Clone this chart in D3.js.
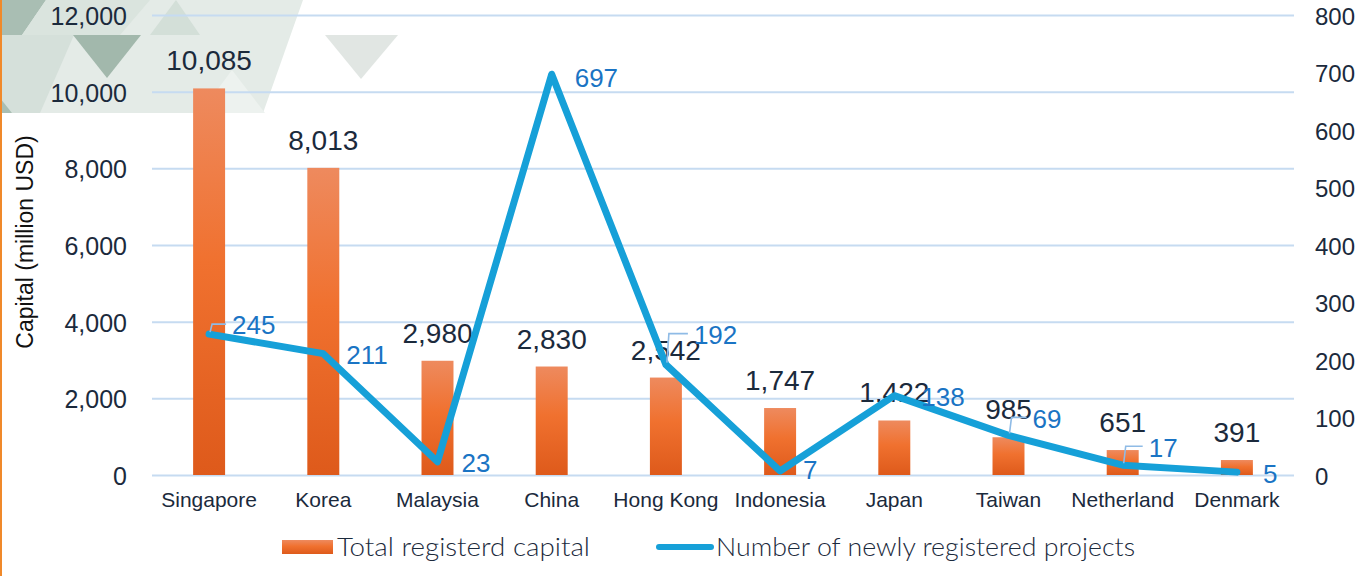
<!DOCTYPE html>
<html><head><meta charset="utf-8">
<script src="https://cdn.jsdelivr.net/npm/d3@7"></script>
<style>body{margin:0;background:#fff}svg{display:block}</style>
</head><body><svg id="c" width="1371" height="576"></svg>
<script>
// ---- data ----
const categories = ["Singapore","Korea","Malaysia","China","Hong Kong","Indonesia","Japan","Taiwan","Netherland","Denmark"];
const capital = [10085,8013,2980,2830,2542,1747,1422,985,651,391];
const projects = [245,211,23,697,192,7,138,69,17,5];
const leftTicks = [0,2000,4000,6000,8000,10000,12000];
const rightTicks = [0,100,200,300,400,500,600,700,800];
const seriesNames = ["Total registerd capital","Number of newly registered projects"];
const yTitle = "Capital (million USD)";
// label layout (pixel offsets for the project labels)
const projLabelDx = [23,23,24,23,28,23,27,24,26,26];
const projLabelDy = [-9,1,1,3,-30,-1,1,-17,-18,2];

// ---- layout ----
const W = 1371, H = 576;
const L = 152, R = 1294, T = 15, B = 475;
const svg = d3.select("#c");
const FONT = "'Liberation Sans', Arial, sans-serif";
const ink = "#1b2a3c";

// decorative background
const deco = svg.append("g");
const polys = [
  {p:[[0,0],[303,0],[263,113],[0,113]], c:"#e4ebe7"},
  {p:[[0,0],[46,0],[22,35],[0,35]], c:"#a9beb3"},
  {p:[[46,0],[150,0],[120,35],[22,35]], c:"#dae4de"},
  {p:[[150,35],[200,35],[176,0]], c:"#d3dfd8"},
  {p:[[0,35],[74,35],[40,113],[0,113]], c:"#d5e0da"},
  {p:[[73,35],[141,35],[107,78]], c:"#a2b8ac"},
  {p:[[0,98],[12,113],[0,113]], c:"#a9beb3"},
  {p:[[200,113],[265,113],[232,70]], c:"#edf2ef"},
  {p:[[325,35],[398,35],[361,79]], c:"#e1e6e3"}
];
deco.selectAll("polygon").data(polys).join("polygon")
  .attr("points", d => d.p.map(q => q.join(",")).join(" "))
  .attr("fill", d => d.c);
svg.append("rect").attr("x",0).attr("y",0).attr("width",2).attr("height",H).attr("fill","#f0892a");

// scales
const x = d3.scaleBand().domain(categories).range([L, R]).padding(0);
const yL = d3.scaleLinear().domain([0, 12000]).range([B, T]);
const yR = d3.scaleLinear().domain([0, 800]).range([B, T]);
const barW = x.bandwidth() * 0.28;
const cx = c => x(c) + x.bandwidth() / 2;

// gradient
const defs = svg.append("defs");
const gr = defs.append("linearGradient").attr("id","barGrad").attr("x1",0).attr("y1",0).attr("x2",0).attr("y2",1);
gr.append("stop").attr("offset","0%").attr("stop-color","#ee8a5e");
gr.append("stop").attr("offset","45%").attr("stop-color","#f0712f");
gr.append("stop").attr("offset","100%").attr("stop-color","#de5a1b");

// left axis with gridlines
const gL = svg.append("g").attr("transform",`translate(${L},0)`)
  .call(d3.axisLeft(yL).tickValues(leftTicks).tickFormat(d3.format(",")).tickSize(-(R-L)).tickPadding(25));
gL.select(".domain").remove();
gL.selectAll(".tick line").attr("stroke","#c6dbf1").attr("stroke-width",2);
gL.selectAll(".tick text").attr("font-family",FONT).attr("font-size",25).attr("fill",ink).attr("dy","0.38em");

// right axis
const gR = svg.append("g").attr("transform",`translate(${R},0)`)
  .call(d3.axisRight(yR).tickValues(rightTicks).tickSize(0).tickPadding(21));
gR.select(".domain").remove();
gR.selectAll(".tick text").attr("font-family",FONT).attr("font-size",24).attr("fill",ink).attr("dy","0.38em");

// bottom axis
const gB = svg.append("g").attr("transform",`translate(0,${B})`)
  .call(d3.axisBottom(x).tickSize(0).tickPadding(17));
gB.select(".domain").remove();
gB.selectAll(".tick text").attr("font-family",FONT).attr("font-size",21).attr("fill",ink);

// y title
svg.append("text").attr("transform","translate(33,242) rotate(-90)")
  .attr("text-anchor","middle").attr("font-family",FONT).attr("font-size",23).attr("fill","#111")
  .text(yTitle);

// bars
const rows = categories.map((c,i) => ({c, cap: capital[i], prj: projects[i], i}));
svg.append("g").selectAll("rect").data(rows).join("rect")
  .attr("x", d => cx(d.c) - barW/2).attr("width", barW)
  .attr("y", d => yL(d.cap)).attr("height", d => B - yL(d.cap))
  .attr("fill","url(#barGrad)");

// bar labels
svg.append("g").selectAll("text").data(rows).join("text")
  .attr("x", d => cx(d.c)).attr("y", d => yL(d.cap) - 18)
  .attr("text-anchor","middle").attr("font-family",FONT).attr("font-size",28).attr("fill",ink)
  .text(d => d3.format(",")(d.cap));

// line
const line = d3.line().x(d => cx(d.c)).y(d => yR(d.prj));
svg.append("path").datum(rows).attr("d", line).attr("fill","none")
  .attr("stroke","#16a0d8").attr("stroke-width",7).attr("stroke-linejoin","round").attr("stroke-linecap","round");

// leader lines for shifted labels
const lead = svg.append("g");
rows.filter(d => projLabelDy[d.i] < -5).forEach(d => {
  const px = cx(d.c), py = yR(d.prj);
  const ly = py + projLabelDy[d.i] - 1;
  lead.append("path").attr("d", `M${px+1},${py-2} L${px+3},${ly} L${px + projLabelDx[d.i] - 6},${ly}`)
    .attr("fill","none").attr("stroke","#8fbbe6").attr("stroke-width",1.6);
});

// project labels
svg.append("g").selectAll("text").data(rows).join("text")
  .attr("x", d => cx(d.c) + projLabelDx[d.i]).attr("y", d => yR(d.prj) + projLabelDy[d.i])
  .attr("dy","0.36em").attr("font-family",FONT).attr("font-size",26).attr("fill","#1a74c4")
  .text(d => d.prj);

// legend
const lg = svg.append("g");
lg.append("rect").attr("x",282).attr("y",540).attr("width",51).attr("height",14).attr("fill","url(#barGrad)");
lg.append("text").attr("x",337).attr("y",556).attr("font-family","Lato, sans-serif").attr("font-weight",300).attr("font-size",25)
  .attr("fill",ink).attr("textLength",253).attr("lengthAdjust","spacingAndGlyphs").text(seriesNames[0]);
lg.append("line").attr("x1",659).attr("x2",711).attr("y1",547).attr("y2",547)
  .attr("stroke","#16a0d8").attr("stroke-width",6).attr("stroke-linecap","round");
lg.append("text").attr("x",716).attr("y",556).attr("font-family","Lato, sans-serif").attr("font-weight",300).attr("font-size",25)
  .attr("fill",ink).attr("textLength",419).attr("lengthAdjust","spacingAndGlyphs").text(seriesNames[1]);
</script></body></html>
